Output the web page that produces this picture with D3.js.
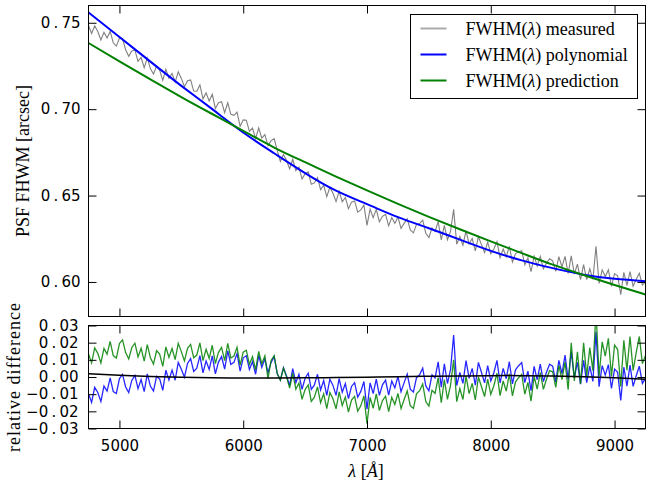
<!DOCTYPE html>
<html>
<head>
<meta charset="utf-8">
<script src="https://cdn.jsdelivr.net/npm/d3@7"></script>
<style>
body { margin: 0; background: #fff; }
</style>
</head>
<body>
<div id="chart"></div>
<script>
// measured FWHM, sampled every 25 A from 4750 to 9250, units of 1e-4 arcsec
const measured = [
  7484,7438,7483,7449,7400,7445,7412,7450,7384,7365,
  7411,7409,7344,7306,7337,7342,7277,7299,7240,7295,
  7235,7204,7249,7225,7167,7231,7179,7207,7157,7216,
  7178,7130,7165,7169,7105,7104,7140,7060,7094,7047,
  7086,7004,7037,7043,6980,7037,6970,6964,6983,6901,
  6938,6936,6871,6891,6830,6891,6832,6853,6789,6818,
  6829,6760,6698,6738,6703,6655,6710,6644,6664,6595,
  6627,6637,6565,6573,6604,6534,6560,6494,6548,6513,
  6465,6524,6464,6489,6424,6462,6469,6404,6417,6445,
  6327,6422,6372,6420,6348,6380,6391,6325,6373,6339,
  6375,6310,6339,6366,6301,6284,6333,6338,6358,6282,
  6257,6312,6293,6349,6244,6327,6244,6293,6420,6218,
  6263,6213,6295,6219,6251,6180,6262,6216,6170,6230,
  6164,6191,6233,6140,6191,6146,6206,6115,6164,6174,
  6181,6099,6139,6059,6149,6093,6148,6076,6108,6134,
  6122,6061,6146,6087,6148,6049,6151,6046,6103,6013,
  6100,6013,6076,6015,6206,5991,6070,6031,6070,5975,
  6048,6036,5927,6055,5980,6060,5975,6015,6050,5982,
  5999
];

// relative difference measured vs polynomial, same grid, units of 1e-4
const residPoly = [
  -98,-148,-60,-90,-143,-53,-82,-5,-85,-96,
  -9,15,-58,-90,-20,9,-68,-15,-85,18,
  -53,-82,3,-11,-78,39,-18,40,-19,85,
  45,-1,79,107,32,51,125,24,94,44,
  123,18,87,119,46,152,73,85,137,34,
  112,124,44,90,16,126,56,105,25,85,
  119,18,-18,54,6,-49,49,-33,15,-72,
  -7,22,-72,-46,16,-75,-21,-107,-13,-49,
  -107,-9,-88,-39,-126,-55,-33,-117,-84,-26,
  -188,-34,-97,-12,-107,-46,-19,-106,-23,-63,
  3,-86,-33,17,-71,-87,-4,13,52,-52,
  -80,13,-5,88,-59,76,-38,45,245,-50,
  27,-37,96,-8,50,-48,85,26,-34,66,
  -23,25,97,-35,50,-10,89,-40,42,66,
  84,-33,34,-80,62,-16,75,-27,28,74,
  63,-30,97,20,127,-14,147,-5,86,-42,
  97,-33,63,-26,264,-56,66,11,72,-67,
  46,27,-136,57,-53,69,-55,7,63,-37,
  -7
];

// relative difference measured vs prediction, same grid, units of 1e-4
const residPred = [
  134,82,170,138,82,167,133,207,125,110,
  195,216,142,105,172,197,117,167,93,189,
  112,75,153,133,62,175,114,166,101,196,
  148,94,167,190,112,128,199,95,162,109,
  185,78,144,172,95,196,111,122,173,69,
  145,156,74,118,42,149,77,123,-10,96,
  124,20,-18,51,1,-65,22,-71,-35,-130,
  -73,-46,-142,-118,-58,-150,-98,-184,-90,-127,
  -185,-87,-166,-117,-204,-134,-113,-199,-168,-110,
  -272,-119,-182,-98,-195,-137,-112,-201,-119,-160,
  -96,-184,-131,-81,-168,-183,-98,-80,-40,-143,
  -170,-77,-95,-3,-150,-15,-130,-47,100,-144,
  -68,-131,5,-97,-37,-134,0,-57,-114,-13,
  -101,-51,22,-109,-23,-82,18,-110,-28,-4,
  15,-100,-31,-141,3,-70,25,-72,-13,37,
  30,-61,67,-15,87,-74,199,-23,146,-41,
  199,6,171,37,385,4,205,122,225,4,
  186,160,-55,214,40,236,38,142,236,78,
  126
];

// smooth curves, every 250 A
const modelWave = [4750,5000,5250,5500,5750,6000,6250,6500,6750,7000,7250,7500,7750,8000,8250,8500,8750,9000,9250];
const polyFit = [0.7560,0.7418,0.7275,0.7135,0.7000,0.6865,0.6745,0.6630,0.6528,0.6450,0.6375,0.6311,0.6245,0.6180,0.6125,0.6080,0.6042,0.6018,0.6004];
const prediction = [0.7383,0.7276,0.7172,0.7070,0.6972,0.6875,0.6778,0.6693,0.6610,0.6530,0.6452,0.6377,0.6305,0.6235,0.6167,0.6100,0.6040,0.5982,0.5927];
const residModel = [19,10,3,-2,-5,-6,-6,-5,-3,-1,2,4,6,8,8,6,2,-4,-13]; // 1e-4

const xTicks = [5000,6000,7000,8000,9000];
const topTicks = [0.60,0.65,0.70,0.75];
const botTicks = [-0.03,-0.02,-0.01,0.00,0.01,0.02,0.03];
const legendLabels = ["measured","polynomial","prediction"];

const wave = d3.range(4750, 9251, 25);

const W = 646, H = 484;
const svg = d3.select("#chart").append("svg")
    .attr("width", W)
    .attr("height", H);

const left = 88.5, right = 645.5;
const x = d3.scaleLinear().domain([4750, 9250]).range([left, right]);
const yTop = d3.scaleLinear().domain([0.58, 0.76]).range([316.5, 5.5]);
const yBot = d3.scaleLinear().domain([-0.03, 0.03]).range([428.5, 325.5]);

const tickFont = "'DejaVu Sans', sans-serif";
const serif = "'Liberation Serif', 'DejaVu Serif', serif";

// clip paths
const defs = svg.append("defs");
defs.append("clipPath").attr("id", "clipTop").append("rect")
    .attr("x", left).attr("y", 5.5).attr("width", right - left).attr("height", 311);
defs.append("clipPath").attr("id", "clipBot").append("rect")
    .attr("x", left).attr("y", 325.5).attr("width", right - left).attr("height", 103);

// ---- top panel ----
const gTop = svg.append("g").attr("clip-path", "url(#clipTop)");

gTop.append("path")
    .datum(measured)
    .attr("fill", "none")
    .attr("stroke", "#808080")
    .attr("stroke-width", 1.1)
    .attr("d", d3.line().x((d, i) => x(wave[i])).y(d => yTop(d / 1e4)));

const smooth = d3.line().curve(d3.curveNatural)
    .x((d, i) => x(modelWave[i]))
    .y(d => yTop(d));

gTop.append("path").datum(polyFit)
    .attr("fill", "none").attr("stroke", "#0000ff").attr("stroke-width", 2)
    .attr("d", smooth);

gTop.append("path").datum(prediction)
    .attr("fill", "none").attr("stroke", "#008000").attr("stroke-width", 2)
    .attr("d", smooth);

// ---- bottom panel ----
const gBot = svg.append("g").attr("clip-path", "url(#clipBot)");
const resLine = d3.line().x((d, i) => x(wave[i])).y(d => yBot(d / 1e4));

gBot.append("path").datum(residPoly)
    .attr("fill", "none").attr("stroke", "#0000ff").attr("stroke-opacity", 0.85)
    .attr("stroke-width", 1.3).attr("d", resLine);

gBot.append("path").datum(residPred)
    .attr("fill", "none").attr("stroke", "#008000").attr("stroke-opacity", 0.85)
    .attr("stroke-width", 1.3).attr("d", resLine);

gBot.append("path").datum(residModel)
    .attr("fill", "none").attr("stroke", "#000").attr("stroke-width", 1.5)
    .attr("d", d3.line().curve(d3.curveNatural)
        .x((d, i) => x(modelWave[i]))
        .y(d => yBot(d / 1e4)));

// ---- axes (ticks pointing inward on every side) ----
function styleAxis(g) {
    g.select(".domain").remove();
    g.selectAll(".tick line").attr("stroke", "#000");
    g.selectAll("text").attr("fill", "#000")
        .style("font-family", tickFont).style("font-size", "15px");
}

// old-style labels: a little air around the decimal point
function spaceDecimal(g) {
    g.selectAll(".tick text").each(function () {
        const t = d3.select(this);
        const parts = t.text().split(".");
        if (parts.length < 2) return;
        t.text(null);
        t.append("tspan").text(parts[0]);
        t.append("tspan").attr("dx", 3.2).text(".");
        t.append("tspan").attr("dx", 3.2).text(parts[1]);
    });
}

// top panel
svg.append("g").attr("transform", `translate(${left},0)`)
    .call(d3.axisLeft(yTop).tickValues(topTicks).tickSize(-8).tickPadding(8).tickFormat(d3.format(".2f")))
    .call(styleAxis)
    .call(spaceDecimal);
svg.append("g").attr("transform", `translate(${right},0)`)
    .call(d3.axisRight(yTop).tickValues(topTicks).tickSize(-8).tickFormat(""))
    .call(styleAxis);
svg.append("g").attr("transform", `translate(0,${yTop.range()[1]})`)
    .call(d3.axisTop(x).tickValues(xTicks).tickSize(-8).tickFormat(""))
    .call(styleAxis);
svg.append("g").attr("transform", `translate(0,${yTop.range()[0]})`)
    .call(d3.axisBottom(x).tickValues(xTicks).tickSize(-8).tickFormat(""))
    .call(styleAxis);

// bottom panel
svg.append("g").attr("transform", `translate(${left},0)`)
    .call(d3.axisLeft(yBot).tickValues(botTicks).tickSize(-8).tickPadding(10).tickFormat(d3.format(".2f")))
    .call(styleAxis)
    .call(spaceDecimal);
svg.append("g").attr("transform", `translate(${right},0)`)
    .call(d3.axisRight(yBot).tickValues(botTicks).tickSize(-8).tickFormat(""))
    .call(styleAxis);
svg.append("g").attr("transform", `translate(0,${yBot.range()[1]})`)
    .call(d3.axisTop(x).tickValues(xTicks).tickSize(-8).tickFormat(""))
    .call(styleAxis);
svg.append("g").attr("transform", `translate(0,${yBot.range()[0]})`)
    .call(d3.axisBottom(x).tickValues(xTicks).tickSize(-8).tickPadding(12).tickFormat(d3.format("d")))
    .call(styleAxis);

// frames
[yTop, yBot].forEach(y => {
    svg.append("rect")
        .attr("x", left).attr("y", y.range()[1])
        .attr("width", right - left).attr("height", y.range()[0] - y.range()[1])
        .attr("fill", "none").attr("stroke", "#000").attr("stroke-width", 1);
});

// axis labels
svg.append("text")
    .attr("transform", `translate(29,${(yTop.range()[0] + yTop.range()[1]) / 2}) rotate(-90)`)
    .attr("text-anchor", "middle")
    .style("font-family", serif).style("font-size", "18px")
    .text("PSF FHWM [arcsec]");

svg.append("text")
    .attr("transform", `translate(20,${(yBot.range()[0] + yBot.range()[1]) / 2}) rotate(-90)`)
    .attr("text-anchor", "middle")
    .style("font-family", serif).style("font-size", "18px")
    .style("letter-spacing", "1px")
    .text("relative difference");

const xl = svg.append("text")
    .attr("x", (left + right) / 2 - 1)
    .attr("y", 477)
    .attr("text-anchor", "middle")
    .style("font-family", serif).style("font-size", "18px");
xl.append("tspan").style("font-style", "italic").text("λ");
xl.append("tspan").text(" [");
xl.append("tspan").style("font-style", "italic").text("Å");
xl.append("tspan").text("]");

// legend
const legend = svg.append("g").attr("transform", "translate(410.5,14.5)");
legend.append("rect")
    .attr("width", 227).attr("height", 84)
    .attr("fill", "#fff").attr("stroke", "#000").attr("stroke-width", 1);

const legendColors = ["#aaaaaa", "#0000ff", "#008000"];
legendLabels.forEach((lab, i) => {
    const yy = 14 + i * 26;
    legend.append("line")
        .attr("x1", 10).attr("x2", 36).attr("y1", yy).attr("y2", yy)
        .attr("stroke", legendColors[i]).attr("stroke-width", 2);
    const t = legend.append("text")
        .attr("x", 55).attr("y", yy + 6)
        .style("font-family", serif).style("font-size", "18px");
    t.append("tspan").text("FWHM(");
    t.append("tspan").style("font-style", "italic").text("λ");
    t.append("tspan").text(") " + lab);
});
</script>
</body>
</html>
